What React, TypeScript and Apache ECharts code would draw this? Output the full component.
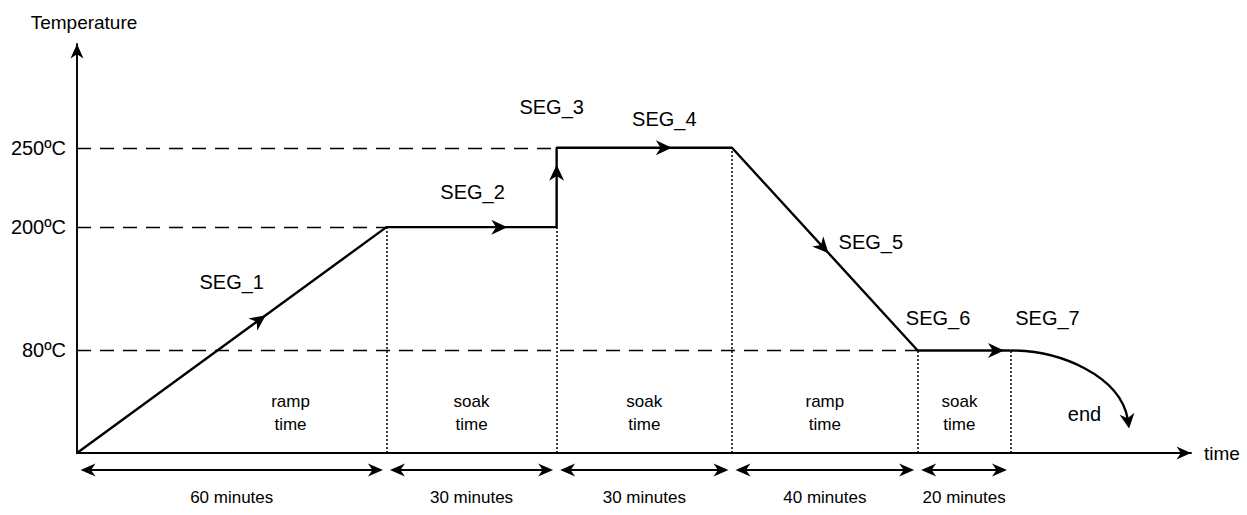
import { useEffect, useRef } from "react";
import * as echarts from "echarts";

// ---------------- data (schematic diagram units; the sketch is not to scale) ----------------
const segmentNames = ["SEG_1", "SEG_2", "SEG_3", "SEG_4", "SEG_5", "SEG_6", "SEG_7"];
const profileTime = [0, 60, 93, 93, 127, 163, 181];
const profileTemp = [0, 185, 185, 250, 250, 84, 84];
const boundaryTimes = [0, 60, 93, 127, 163, 181];
const phaseNames = ["ramp\ntime", "soak\ntime", "soak\ntime", "ramp\ntime", "soak\ntime"];
const endName = "end";
const durationNames = ["60 minutes", "30 minutes", "30 minutes", "40 minutes", "20 minutes"];
const levelTemps = [250, 185, 84];
const levelNames = ["250ºC", "200ºC", "80ºC"];
const levelEndTimes = [93, 60, 163];
const seg7End = [204, 20];
const X_MAX = 216;
const Y_MAX = 335;

const FONT = "'Liberation Sans', Arial, Helvetica, sans-serif";
const BLACK = "#000";

function arrowHead(tip: number[], ux: number, uy: number, L: number, W: number) {
  const nx = -uy;
  const ny = ux;
  const bx = tip[0] - ux * L;
  const by = tip[1] - uy * L;
  const mx = tip[0] - ux * L * 0.7;
  const my = tip[1] - uy * L * 0.7;
  return {
    type: "polygon",
    shape: {
      points: [
        [tip[0], tip[1]],
        [bx + nx * W, by + ny * W],
        [mx, my],
        [bx - nx * W, by - ny * W],
      ],
    },
    style: { fill: BLACK },
  };
}

function unit(a: number[], b: number[]) {
  const dx = b[0] - a[0];
  const dy = b[1] - a[1];
  const len = Math.hypot(dx, dy) || 1;
  return [dx / len, dy / len];
}

function text(str: string, x: number, y: number, size: number, lineHeight?: number) {
  return {
    type: "text",
    x,
    y,
    style: {
      text: str,
      fill: BLACK,
      fontSize: size,
      fontFamily: FONT,
      align: "center",
      verticalAlign: "middle",
      lineHeight: lineHeight || size * 1.2,
    },
  };
}

function levelAt(t: number) {
  let m = Infinity;
  profileTime.forEach((pt, i) => {
    if (pt === t) m = Math.min(m, profileTemp[i]);
  });
  return m;
}

export default function App() {
  const ref = useRef<HTMLDivElement>(null);

  useEffect(() => {
    if (!ref.current) return;
    const chart = echarts.init(ref.current, null, { renderer: "svg" });

    const profileData = profileTime.map((t, i) => [t, profileTemp[i]]);
    // tip position of each direction arrow, as a fraction along its segment
    const arrowAt = [0.61, 0.71, 0.785, 0.657, 0.52, 0.93];
    // label offsets (px) from each segment's midpoint
    const segLabelOffset = [
      [0, -58],
      [1, -35],
      [-5, -80],
      [20, -29],
      [46, -7],
      [-26, -32],
    ];
    const phaseAnchor = [0.69, 0.5, 0.5, 0.5, 0.45];

    const option: any = {
      animation: false,
      grid: { left: 77, right: 56, top: 44, bottom: 62, containLabel: false },
      xAxis: {
        type: "value",
        min: 0,
        max: X_MAX,
        axisLine: { show: true, onZero: false, lineStyle: { color: BLACK, width: 1.9 } },
        axisTick: { show: false },
        axisLabel: { show: false },
        splitLine: { show: false },
        name: "time",
        nameLocation: "end",
        nameGap: 13,
        nameTextStyle: { color: BLACK, fontSize: 19, fontFamily: FONT },
      },
      yAxis: {
        type: "value",
        min: 0,
        max: Y_MAX,
        axisLine: { show: true, onZero: false, lineStyle: { color: BLACK, width: 1.9 } },
        axisTick: { show: false },
        axisLabel: { show: false },
        splitLine: { show: false },
        name: "Temperature",
        nameLocation: "end",
        nameGap: 12,
        nameTextStyle: { color: BLACK, fontSize: 19, fontFamily: FONT, padding: [0, 0, 0, 14] },
      },
      series: [
        {
          type: "line",
          data: profileData,
          symbol: "none",
          lineStyle: { color: BLACK, width: 2.4 },
          z: 5,
          markLine: {
            silent: true,
            symbol: "none",
            animation: false,
            label: {
              show: true,
              position: "start",
              distance: 11,
              color: BLACK,
              fontSize: 20,
              fontFamily: FONT,
            },
            data: [
              ...levelTemps.map((v, i) => [
                {
                  coord: [0, v],
                  lineStyle: { type: [14, 9], width: 1.3, color: BLACK },
                  label: { show: true, formatter: levelNames[i] },
                },
                { coord: [levelEndTimes[i], v] },
              ]),
              ...boundaryTimes.slice(1).map((t) => [
                {
                  coord: [t, 0],
                  lineStyle: { type: [2, 2], width: 1.5, color: BLACK },
                  label: { show: false },
                },
                { coord: [t, levelAt(t)] },
              ]),
            ],
          },
        },
        {
          // direction arrows on each segment
          type: "custom",
          data: profileData.slice(0, 6),
          encode: { x: 0, y: 1 },
          z: 6,
          renderItem: (params: any, api: any) => {
            const i = params.dataIndex;
            const p0 = api.coord(profileData[i]);
            const p1 = api.coord(profileData[i + 1]);
            const t = arrowAt[i];
            const tip = [p0[0] + (p1[0] - p0[0]) * t, p0[1] + (p1[1] - p0[1]) * t];
            const u = unit(p0, p1);
            return arrowHead(tip, u[0], u[1], 16, 7.5);
          },
        },
        {
          // segment names
          type: "custom",
          data: profileData.slice(0, 6),
          encode: { x: 0, y: 1 },
          renderItem: (params: any, api: any) => {
            const i = params.dataIndex;
            const p0 = api.coord(profileData[i]);
            const p1 = api.coord(profileData[i + 1]);
            const mx = (p0[0] + p1[0]) / 2 + segLabelOffset[i][0];
            const my = (p0[1] + p1[1]) / 2 + segLabelOffset[i][1];
            return text(segmentNames[i], mx, my, 20);
          },
        },
        {
          // phase names inside each interval
          type: "custom",
          data: boundaryTimes.slice(0, 5).map((t, i) => [t, boundaryTimes[i + 1], 0]),
          encode: { x: [0, 1], y: 2 },
          renderItem: (params: any, api: any) => {
            const i = params.dataIndex;
            const a = api.coord([api.value(0), 0]);
            const b = api.coord([api.value(1), 0]);
            const x = a[0] + (b[0] - a[0]) * phaseAnchor[i];
            return text(phaseNames[i], x, a[1] - 40, 17, 23);
          },
        },
        {
          // durations under the time axis
          type: "custom",
          data: boundaryTimes.slice(0, 5).map((t, i) => [t, boundaryTimes[i + 1], 0]),
          encode: { x: [0, 1], y: 2 },
          renderItem: (params: any, api: any) => {
            const i = params.dataIndex;
            const a = api.coord([api.value(0), 0]);
            const b = api.coord([api.value(1), 0]);
            const y = a[1] + 17;
            const x0 = a[0] + 3.5;
            const x1 = b[0] - 3.5;
            return {
              type: "group",
              children: [
                {
                  type: "line",
                  shape: { x1: x0 + 4, y1: y, x2: x1 - 4, y2: y },
                  style: { stroke: BLACK, lineWidth: 1.9 },
                },
                arrowHead([x0, y], -1, 0, 15, 6.5),
                arrowHead([x1, y], 1, 0, 15, 6.5),
                text(durationNames[i], (a[0] + b[0]) / 2, a[1] + 44, 17),
              ],
            };
          },
        },
        {
          // SEG_7: curved fall to the end
          type: "custom",
          data: [[profileTime[6], profileTemp[6], seg7End[0], seg7End[1]]],
          encode: { x: [0, 2], y: [1, 3] },
          renderItem: (params: any, api: any) => {
            const p0 = api.coord([api.value(0), api.value(1)]);
            const tip = api.coord([api.value(2), api.value(3)]);
            const dir = unit([tip[0] - 2, tip[1] - 14], tip);
            const p3 = [tip[0] - dir[0] * 10, tip[1] - dir[1] * 10];
            const dx = p3[0] - p0[0];
            const dy = p3[1] - p0[1];
            const endX = api.coord([api.value(0), 0]);
            return {
              type: "group",
              children: [
                {
                  type: "bezierCurve",
                  shape: {
                    x1: p0[0],
                    y1: p0[1],
                    cpx1: p0[0] + dx * 0.43,
                    cpy1: p0[1],
                    cpx2: p3[0] - dx * 0.07,
                    cpy2: p0[1] + dy * 0.37,
                    x2: p3[0],
                    y2: p3[1],
                  },
                  style: { stroke: BLACK, lineWidth: 2.4, fill: "none" },
                },
                arrowHead(tip, dir[0], dir[1], 15, 7.5),
                text(segmentNames[6], p0[0] + 37, p0[1] - 32, 20),
                text(endName, endX[0] + 74, endX[1] - 39, 20),
              ],
            };
          },
        },
        {
          // axis arrowheads
          type: "custom",
          data: [
            [X_MAX, 0, 1, 0],
            [0, Y_MAX, 0, 1],
          ],
          encode: { x: 0, y: 1 },
          renderItem: (params: any, api: any) => {
            const tip = api.coord([api.value(0), api.value(1)]);
            return arrowHead(tip, api.value(2), -api.value(3), 14.5, 6.5);
          },
        },
      ],
    };

    chart.setOption(option);
    return () => chart.dispose();
  }, []);

  return (
    <div
      ref={ref}
      style={{ position: "fixed", left: 0, top: 0, width: 1247, height: 515, background: "#fff" }}
    />
  );
}
